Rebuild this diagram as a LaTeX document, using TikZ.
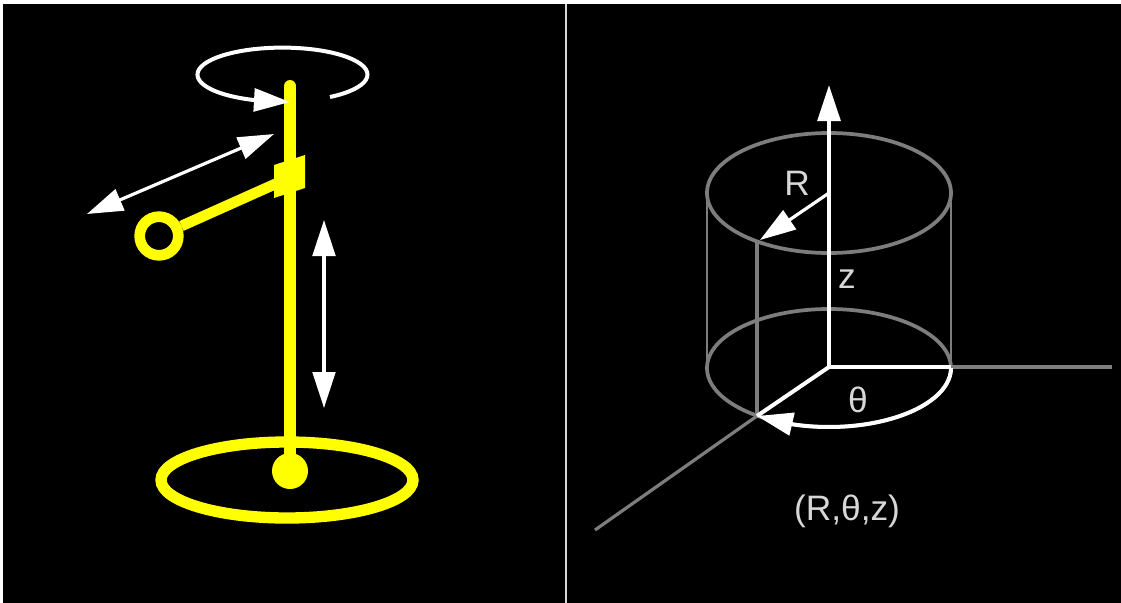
\documentclass[tikz,border=0pt]{standalone}
\usepackage{xcolor}
\usepackage{fontspec}
\setmainfont{Liberation Sans}
\usetikzlibrary{arrows.meta, positioning}
\definecolor{rodyellow}{RGB}{255, 255, 0}
\definecolor{cylgray}{RGB}{125, 125, 125}
\definecolor{framegray}{RGB}{215, 215, 215}
\begin{document}
\begin{tikzpicture}[
        x=0.75pt, y=-0.75pt,
        rod/.style={draw=rodyellow, line width=9pt},
        motion/.style={draw=white, line width=2.4pt},
        headend/.style={-{Triangle[length=27pt, width=17pt]}},
        headboth/.style={{Triangle[length=27pt, width=17pt]}-{Triangle[length=27pt, width=17pt]}},
        cyl/.style={draw=cylgray, line width=2.8pt},
        cylthin/.style={draw=cylgray, line width=1.6pt},
        axis/.style={draw=white, line width=3pt},
        lab/.style={text=framegray, font=\fontsize{26.5}{26.5}\selectfont, inner sep=0pt}
    ]
        \useasboundingbox (0,0) rectangle (1121,603);
        \fill[white] (0,0) rectangle (1121,603);
        \fill[black] (3,4) rectangle (1125,607);
        \draw[draw=framegray, line width=2.2pt] (566,4) -- (566,607);

        % left panel
        \coordinate (rodtop) at (290,86);
        \coordinate (rodfoot) at (290,471);
        \node[circle, fill=rodyellow, minimum size=27pt, inner sep=0pt] (foot) at (rodfoot) {};
        \draw[rod, line cap=round] (rodtop) -- (foot.center);
        \draw[rod, line width=8.5pt] (287,480) ellipse [x radius=126, y radius=38];
        \fill[rodyellow] (274,165) -- (305,155) -- (305,188) -- (274,198) -- cycle;
        \node[circle, draw=rodyellow, line width=8pt, minimum size=29pt, inner sep=0pt] (ring) at (159,236) {};
        \coordinate (grip) at (282,181);
        \draw[draw=rodyellow, line width=8pt] (ring) -- (grip);
        \draw[motion, line width=3pt, headend] (330,97) arc [start angle=56, end angle=-249, x radius=85, y radius=27] -- (290,102);
        \coordinate (slideA) at (87,214);
        \coordinate (slideB) at (274,134);
        \draw[motion, headboth] (slideA) -- (slideB);
        \coordinate (liftA) at (324,220);
        \coordinate (liftB) at (324,408);
        \draw[motion, headboth] (liftA) -- (liftB);

        % right panel
        \coordinate (origin) at (829,367);
        \coordinate (topc) at (829,193);
        \coordinate (rim) at (757,416);
        \coordinate (rimtop) at (757,240);
        \coordinate (xend) at (1112,367);
        \coordinate (xmid) at (951,367);
        \coordinate (yend) at (595,530);
        \draw[cyl] (topc) ellipse [x radius=122, y radius=60];
        \draw[cyl] (829,368) ellipse [x radius=122, y radius=59];
        \draw[cylthin] (707,193) -- (707,368);
        \draw[cylthin] (951,193) -- (951,368);
        \draw[cyl] (rimtop) -- (rim);
        \draw[cyl, line width=2.4pt] (rim) -- (yend);
        \draw[cyl, line width=2.6pt] (xmid) -- (xend);
        \draw[axis] (origin) -- (xmid);
        \draw[axis] (origin) -- (rim);
        \draw[axis, headend] (origin) -- (829,85);
        \draw[motion, headend] (topc) -- (760,240);
        \draw[axis, headend] (951,368) arc [start angle=0, end angle=107, x radius=122, y radius=59] -- (rim);
        \node[lab] (labR) at (797,183) {R};
        \node[lab] (labz) at (847,279) {z};
        \node[lab] (labt) at (858,400) {θ};
        \node[lab, anchor=base] (labcoord) at (847,520) {(R,θ,z)};
    \end{tikzpicture}
\end{document}
